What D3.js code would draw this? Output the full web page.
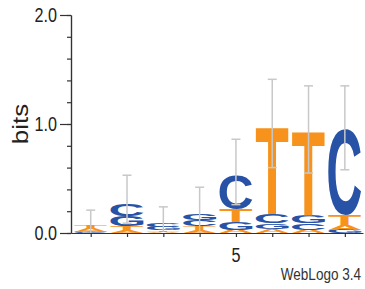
<!DOCTYPE html>
<html><head><meta charset="utf-8">
<script src="https://cdn.jsdelivr.net/npm/d3@7"></script>
<style>body{margin:0;background:#fff}svg{display:block}</style>
</head><body>
<svg id="chart" width="365" height="289"></svg>
<script>
// ---- data (bits) ----
const positions = [1,2,3,4,5,6,7,8];
const bitsA = [0.030, 0.025, 0.010, 0.025, 0.030, 0.040, 0.030, 0.045];
const bitsC = [0.005, 0.110, 0.035, 0.060, 0.310, 0.080, 0.060, 0.780];
const bitsG = [0.005, 0.090, 0.030, 0.060, 0.070, 0.050, 0.070, 0.030];
const bitsT = [0.035, 0.040, 0.015, 0.035, 0.120, 0.800, 0.770, 0.090];
const errTop    = [0.21, 0.53, 0.24, 0.42, 0.86, 1.41, 1.35, 1.35];
const errBottom = [0.00, 0.09, 0.01, 0.00, 0.26, 0.60, 0.55, 0.58];
const yTicks = [0,0.2,0.4,0.6,0.8,1.0,1.2,1.4,1.6,1.8,2.0];
const yMajor = [0,1,2];
const xLabels = {5:"5"};
const colors = {A:"#F7931D", T:"#F7931D", C:"#2852A5", G:"#2852A5"};

const svg = d3.select("#chart");
const x = d3.scaleLinear().domain([0.457, 8.5]).range([71, 363]);
const y = d3.scaleLinear().domain([0, 2]).range([233, 15]);
const colW = 33;
const SX = 0.83; // horizontal condensation of text

// measure glyph ink
const cv = document.createElement("canvas").getContext("2d");
const FONT = "bold 100px 'Liberation Sans', Arial, sans-serif";
cv.font = FONT;
const metrics = {};
["A","C","G","T"].forEach(l => {
  const m = cv.measureText(l);
  metrics[l] = {L: m.actualBoundingBoxLeft, R: m.actualBoundingBoxRight,
                A: m.actualBoundingBoxAscent, D: m.actualBoundingBoxDescent};
});

// stacks
const logo = svg.append("g");
positions.forEach((p, i) => {
  const letters = [
    {l:"A", v:bitsA[i]}, {l:"C", v:bitsC[i]}, {l:"G", v:bitsG[i]}, {l:"T", v:bitsT[i]}
  ].sort((a,b) => a.v - b.v);
  let base = 0;
  letters.forEach(d => {
    const y0 = y(base), y1 = y(base + d.v);
    base += d.v;
    const h = y0 - y1;
    if (h < 0.3) return;
    const m = metrics[d.l];
    const bx = x(p) - colW/2, by = y1;
    const sx = colW / (m.L + m.R), sy = h / (m.A + m.D);
    logo.append("text")
      .attr("transform", `translate(${bx},${by}) scale(${sx},${sy}) translate(${m.L},${m.A})`)
      .style("font", FONT)
      .attr("fill", colors[d.l])
      .text(d.l);
  });
});

// error bars
const eb = svg.append("g").attr("stroke", "#c8c8c8").attr("stroke-width", 1.5).attr("fill","none");
positions.forEach((p, i) => {
  const cx = x(p);
  eb.append("line").attr("x1", cx).attr("x2", cx).attr("y1", y(errTop[i])).attr("y2", y(errBottom[i]));
  eb.append("line").attr("x1", cx-4.5).attr("x2", cx+4.5).attr("y1", y(errTop[i])).attr("y2", y(errTop[i]));
  if (errBottom[i] > 0.02)
    eb.append("line").attr("x1", cx-4.5).attr("x2", cx+4.5).attr("y1", y(errBottom[i])).attr("y2", y(errBottom[i]));
});

// y axis
const yMinor = svg.append("g").attr("transform", "translate(71,0)")
  .call(d3.axisLeft(y).tickValues(yTicks).tickSize(4).tickSizeOuter(0).tickFormat(""));
const yMaj = svg.append("g").attr("transform", "translate(71,0)")
  .call(d3.axisLeft(y).tickValues(yMajor).tickSize(11).tickSizeOuter(0).tickFormat(""));
svg.selectAll(".domain, .tick line").attr("stroke", "#333").attr("stroke-width", 1.2);
yMajor.forEach(v => {
  svg.append("text")
    .attr("transform", `translate(57,${y(v)+7}) scale(${SX},1)`)
    .attr("text-anchor", "end")
    .style("font", "19.5px 'Liberation Sans', Arial, sans-serif")
    .attr("fill", "#222")
    .text(d3.format(".1f")(v));
});

// x axis
const xAx = svg.append("g").attr("transform", "translate(0,233)")
  .call(d3.axisBottom(x).tickValues(positions).tickSize(4).tickSizeOuter(0).tickFormat(""));
xAx.selectAll(".domain, .tick line").attr("stroke", "#333").attr("stroke-width", 1.2);
positions.filter(p => xLabels[p]).forEach(p => {
  svg.append("text")
    .attr("transform", `translate(${x(p)},262) scale(${SX},1)`)
    .attr("text-anchor", "middle")
    .style("font", "19.5px 'Liberation Sans', Arial, sans-serif")
    .attr("fill", "#222")
    .text(xLabels[p]);
});

// y label
svg.append("text")
  .attr("transform", `translate(28.3,124) scale(${SX},1) rotate(-90)`)
  .attr("text-anchor", "middle")
  .style("font", "26px 'Liberation Sans', Arial, sans-serif")
  .attr("fill", "#222")
  .text("bits");

// footer
svg.append("text")
  .attr("transform", `translate(361,280) scale(${SX},1)`)
  .attr("text-anchor", "end")
  .style("font", "16.3px 'Liberation Sans', Arial, sans-serif")
  .attr("fill", "#333")
  .text("WebLogo 3.4");
</script>
</body></html>
